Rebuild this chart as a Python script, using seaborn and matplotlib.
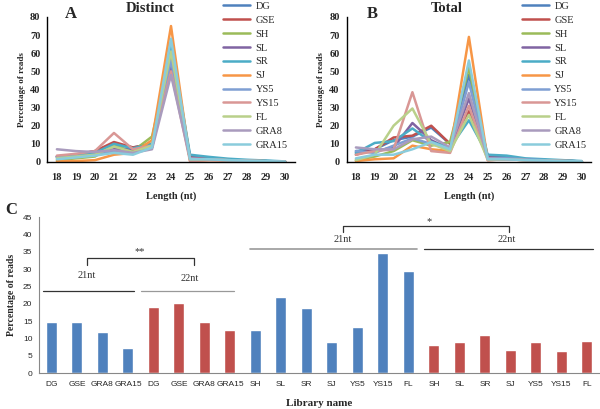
import pandas as pd
import seaborn as sns
import matplotlib.pyplot as plt
from matplotlib.ticker import FixedLocator

sns.set_theme(style="white")
plt.rcParams['font.family'] = ['Liberation Serif', 'DejaVu Serif']

# --- DATA ---
lengths = list(range(18, 31))
libraries = ['DG', 'GSE', 'SH', 'SL', 'SR', 'SJ', 'YS5', 'YS15', 'FL', 'GRA8', 'GRA15']
colors = ['#4F81BD', '#C0504D', '#9BBB59', '#8064A2', '#4BACC6', '#F79646',
          '#7F9FD3', '#D99795', '#B9D08A', '#A99BBD', '#8ACCDC']

distinct = {
    'DG':    [3.0, 4.0, 6.0, 10.0, 8.0, 10.0, 64, 3.0, 2.0, 1.2, 0.8, 0.5, 0.2],
    'GSE':   [3.0, 4.0, 6.0, 11.0, 8.0, 10.0, 54, 2.5, 1.5, 1.0, 0.7, 0.4, 0.2],
    'SH':    [1.0, 2.0, 3.0, 9.0, 6.0, 14.0, 60, 1.5, 1.5, 1.0, 0.7, 0.4, 0.2],
    'SL':    [3.0, 4.0, 5.0, 7.0, 7.0, 8.0, 52, 2.0, 1.5, 1.0, 0.7, 0.4, 0.2],
    'SR':    [2.5, 4.0, 5.0, 10.0, 7.5, 10.0, 66, 4.0, 2.8, 1.8, 1.2, 0.8, 0.3],
    'SJ':    [0.3, 0.5, 1.0, 4.0, 5.0, 12.0, 75, 0.5, 1.0, 0.8, 0.6, 0.4, 0.2],
    'YS5':   [2.5, 3.0, 4.0, 6.0, 5.0, 8.0, 56, 1.5, 1.5, 1.0, 0.7, 0.4, 0.2],
    'YS15':  [3.5, 4.5, 6.0, 16.0, 7.0, 9.0, 50, 0.5, 1.0, 0.8, 0.6, 0.4, 0.2],
    'FL':    [2.0, 3.0, 4.0, 8.5, 5.5, 9.0, 61, 1.5, 1.5, 1.0, 0.7, 0.4, 0.2],
    'GRA8':  [7.0, 6.0, 5.5, 6.5, 5.0, 7.0, 48, 2.0, 1.5, 1.0, 0.7, 0.4, 0.2],
    'GRA15': [1.5, 2.5, 3.5, 5.0, 4.0, 8.0, 68, 1.5, 1.5, 1.0, 0.7, 0.4, 0.2],
}
total = {
    'DG':    [6.0, 7.0, 12.0, 14.0, 19.0, 10.0, 48, 3.5, 2.5, 1.5, 1.0, 0.7, 0.3],
    'GSE':   [4.0, 7.0, 13.5, 14.5, 20.0, 10.0, 28, 2.5, 2.0, 1.5, 1.0, 0.6, 0.3],
    'SH':    [1.0, 3.0, 6.0, 12.0, 9.0, 11.0, 52, 2.0, 2.0, 1.5, 1.0, 0.6, 0.3],
    'SL':    [5.0, 6.0, 8.0, 21.5, 12.0, 7.0, 35, 2.5, 2.0, 1.5, 1.0, 0.6, 0.3],
    'SR':    [5.0, 10.5, 11.5, 18.5, 11.0, 8.0, 23, 4.0, 3.5, 2.0, 1.5, 1.0, 0.5],
    'SJ':    [0.5, 1.5, 2.0, 9.0, 7.0, 6.0, 69, 1.0, 1.5, 1.0, 0.8, 0.5, 0.3],
    'YS5':   [6.0, 5.0, 9.0, 13.0, 10.0, 7.0, 44, 2.0, 2.0, 1.5, 1.0, 0.6, 0.3],
    'YS15':  [4.0, 6.0, 7.0, 38.5, 6.0, 5.0, 31, 1.0, 1.5, 1.0, 0.8, 0.5, 0.3],
    'FL':    [1.0, 4.0, 20.0, 29.5, 10.0, 6.0, 26, 1.5, 1.5, 1.0, 0.8, 0.5, 0.3],
    'GRA8':  [8.0, 7.0, 7.0, 12.5, 14.0, 8.0, 38, 2.0, 1.5, 1.0, 0.8, 0.5, 0.3],
    'GRA15': [2.0, 4.0, 4.0, 7.0, 11.0, 7.0, 56, 1.5, 1.5, 1.0, 0.8, 0.5, 0.3],
}

bar_libs = ['DG', 'GSE', 'GRA8', 'GRA15', 'DG', 'GSE', 'GRA8', 'GRA15',
            'SH', 'SL', 'SR', 'SJ', 'YS5', 'YS15', 'FL',
            'SH', 'SL', 'SR', 'SJ', 'YS5', 'YS15', 'FL']
bar_nt = ['21nt'] * 4 + ['22nt'] * 4 + ['21nt'] * 7 + ['22nt'] * 7
bar_vals = [14.6, 14.6, 11.7, 7.1, 18.9, 20.3, 14.6, 12.4,
            12.3, 21.8, 18.7, 9.0, 13.2, 34.6, 29.5,
            8.1, 9.0, 11.0, 6.7, 9.0, 6.3, 9.2]

palette = dict(zip(libraries, colors))


def long_df(d):
    rows = []
    for lib in libraries:
        for x, v in zip(lengths, d[lib]):
            rows.append({'Length': x, 'Percent': v, 'Library': lib})
    return pd.DataFrame(rows)


fig = plt.figure(figsize=(6.0, 4.09), dpi=100)
axA = fig.add_axes([0.079, 0.604, 0.412, 0.3545])
axB = fig.add_axes([0.5775, 0.604, 0.408, 0.3545])
axC = fig.add_axes([0.0645, 0.088, 0.935, 0.3814])


def style_line_ax(ax, df, title, title_x, letter, letter_x, legend_x):
    sns.lineplot(data=df, x='Length', y='Percent', hue='Library', palette=palette,
                 hue_order=libraries, linewidth=1.8, ax=ax, legend=True)
    ax.set_xlim(17.5, 30.5)
    ax.set_ylim(0, 80)
    ax.set_yticks(range(0, 81, 10))
    ax.set_xticks(lengths)
    ax.xaxis.set_minor_locator(FixedLocator([x + 0.5 for x in range(17, 31)]))
    ax.tick_params(axis='x', which='major', length=0, pad=8, labelsize=7.5)
    ax.tick_params(axis='x', which='minor', length=3, width=0.8, direction='out', color='black')
    ax.tick_params(axis='y', length=3, width=0.8, direction='out', labelsize=7.5, pad=2, color='black')
    for lab in ax.get_xticklabels() + ax.get_yticklabels():
        lab.set_fontweight('bold')
    ax.grid(False)
    for s in ['top', 'right']:
        ax.spines[s].set_visible(False)
    for s in ['left', 'bottom']:
        ax.spines[s].set_color('black')
        ax.spines[s].set_linewidth(1.0)
    ax.set_xlabel('Length (nt)', fontsize=7.5, fontweight='bold', labelpad=7)
    ax.set_ylabel('Percentage of reads', fontsize=6.5, fontweight='bold', labelpad=3)
    fig.text(title_x, 0.980, title, ha='center', va='center', fontsize=10.5, fontweight='bold')
    fig.text(letter_x, 0.965, letter, ha='left', va='center', fontsize=12, fontweight='bold')
    leg = ax.legend(loc='upper left', bbox_to_anchor=(legend_x, 0.996), bbox_transform=fig.transFigure,
                    frameon=False, fontsize=7.5, handlelength=2.6, handletextpad=0.5,
                    labelspacing=0.44, borderpad=0, borderaxespad=0)
    for line in leg.get_lines():
        line.set_linewidth(1.8)


style_line_ax(axA, long_df(distinct), 'Distinct', 0.25, 'A', 0.108, 0.372)
style_line_ax(axB, long_df(total), 'Total', 0.745, 'B', 0.612, 0.870)

# --- PANEL C ---
slots = [f'{lib}_{i}' for i, lib in enumerate(bar_libs)]
dfc = pd.DataFrame({'slot': slots, 'value': bar_vals, 'nt': bar_nt})
sns.barplot(data=dfc, x='slot', y='value', hue='nt', palette={'21nt': '#4F81BD', '22nt': '#C0504D'},
            dodge=False, width=0.43, legend=False, ax=axC, saturation=1)
axC.set_xlim(-0.5, len(slots) - 0.5)
axC.set_ylim(0, 45)
axC.set_yticks(range(0, 46, 5))
axC.set_xticks(range(len(slots)))
axC.set_xticklabels(bar_libs, family='Liberation Sans', fontsize=6)
axC.xaxis.set_minor_locator(FixedLocator([i - 0.5 for i in range(len(slots) + 1)]))
axC.tick_params(axis='x', which='major', length=0, pad=6)
axC.tick_params(axis='x', which='minor', length=2.5, width=0.6, direction='out', color='#888888')
axC.tick_params(axis='y', length=2.5, width=0.6, direction='out', color='#888888', pad=2)
for lab in axC.get_yticklabels():
    lab.set_family('Liberation Sans')
    lab.set_fontsize(6)
axC.grid(False)
for s in ['top', 'right']:
    axC.spines[s].set_visible(False)
for s in ['left', 'bottom']:
    axC.spines[s].set_color('#888888')
    axC.spines[s].set_linewidth(0.8)
axC.set_xlabel('Library name', fontsize=8, fontweight='bold', labelpad=8)
axC.set_ylabel('Percentage of reads', fontsize=7, fontweight='bold', labelpad=5)
fig.text(0.008, 0.487, 'C', fontsize=12, fontweight='bold', ha='left', va='center')

# group lines, brackets and significance marks
axC.plot([-0.33, 3.24], [23.7, 23.7], color='#333333', lw=0.9)
axC.plot([3.51, 7.16], [23.7, 23.7], color='#999999', lw=0.9)
axC.text(1.39, 28.0, '21nt', fontsize=7.5, ha='center', va='center', color='#333333')
axC.text(5.43, 27.2, '22nt', fontsize=7.5, ha='center', va='center', color='#333333')
axC.plot([1.39, 1.39, 5.59, 5.59], [31.3, 33.2, 33.2, 31.3], color='#333333', lw=0.9)
axC.text(3.47, 35.0, '**', fontsize=7.5, ha='center', va='center', color='#333333')

axC.plot([7.78, 14.33], [35.8, 35.8], color='#999999', lw=1.2)
axC.plot([14.6, 21.24], [35.8, 35.8], color='#333333', lw=0.9)
axC.text(11.43, 38.4, '21nt', fontsize=7.5, ha='center', va='center', color='#333333')
axC.text(17.86, 38.4, '22nt', fontsize=7.5, ha='center', va='center', color='#333333')
axC.plot([11.43, 11.43, 17.94, 17.94], [40.7, 42.4, 42.4, 40.7], color='#333333', lw=0.9)
axC.text(14.8, 43.6, '*', fontsize=7.5, ha='center', va='center', color='#333333')

plt.savefig('out.png', dpi=100)
